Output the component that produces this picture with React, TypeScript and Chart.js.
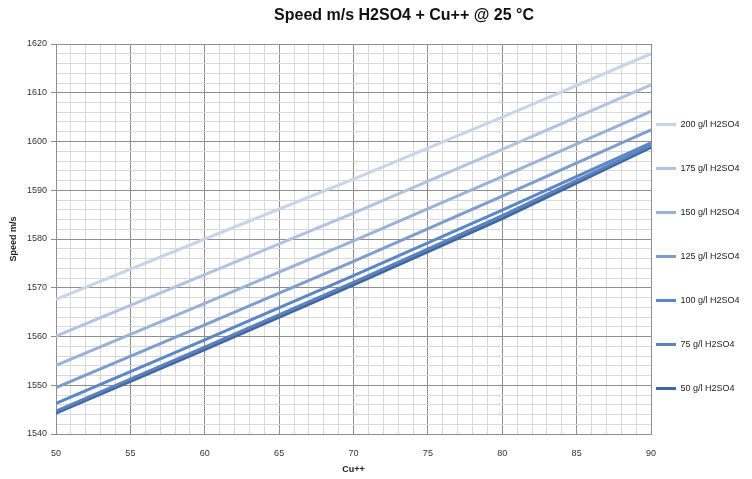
import React, { useEffect, useRef } from 'react';
import { Chart, registerables } from 'chart.js';

Chart.register(...registerables);

const chartTitle = 'Speed m/s H2SO4 + Cu++ @ 25 °C';
const xAxisTitle = 'Cu++';
const yAxisTitle = 'Speed m/s';

const cuValues = [50, 60, 70, 80, 90];
const seriesLabels = [
  '200 g/l H2SO4',
  '175 g/l H2SO4',
  '150 g/l H2SO4',
  '125 g/l H2SO4',
  '100 g/l H2SO4',
  '75 g/l H2SO4',
  '50 g/l H2SO4',
];
const speed200 = [1567.6, 1580.0, 1592.3, 1605.0, 1618.0];
const speed175 = [1560.1, 1572.7, 1585.3, 1598.4, 1611.6];
const speed150 = [1554.1, 1566.8, 1579.6, 1592.8, 1606.2];
const speed125 = [1549.5, 1562.4, 1575.4, 1588.8, 1602.4];
const speed100 = [1546.3, 1559.3, 1572.5, 1585.9, 1599.7];
const speed75 = [1544.7, 1557.8, 1571.1, 1584.8, 1599.2];
const speed50 = [1544.3, 1557.3, 1570.6, 1584.2, 1598.8];
const seriesValues = [speed200, speed175, speed150, speed125, speed100, speed75, speed50];
const seriesColors = ['#c8d4e9', '#b1c3e0', '#9bb1d7', '#7f9cce', '#5c87c6', '#5b82bb', '#3f67a4'];

const xMin = 50;
const xMax = 90;
const yMin = 1540;
const yMax = 1620;

const FONT = '"Liberation Sans", Arial, sans-serif';
const MAJOR = '#8e8e8e';
const MINOR = '#d9d9d9';

const titlePlugin = {
  id: 'customTitle',
  afterDraw(chart: any) {
    const { ctx, chartArea } = chart;
    ctx.save();
    ctx.font = `bold 16px ${FONT}`;
    ctx.fillStyle = '#111';
    ctx.textAlign = 'center';
    ctx.textBaseline = 'middle';
    ctx.fillText(chartTitle, (chartArea.left + chart.width) / 2, 16);
    ctx.restore();
  },
};

const legendShiftPlugin = {
  id: 'legendShift',
  afterLayout(chart: any) {
    const lg = chart.legend;
    if (!lg) return;
    lg.left -= 30;
    lg.width += 30;
    lg.top -= 5;
    lg.bottom -= 5;
  },
};

export default function App() {
  const canvasRef = useRef<HTMLCanvasElement | null>(null);

  useEffect(() => {
    if (!canvasRef.current) return;
    const datasets = seriesLabels.map((label, i) => ({
      label,
      data: cuValues.map((x, j) => ({ x, y: seriesValues[i][j] })),
      borderColor: seriesColors[i],
      backgroundColor: seriesColors[i],
      borderWidth: 3,
      pointRadius: 0,
      fill: false,
      tension: 0,
    }));
    const chart = new Chart(canvasRef.current, {
      type: 'line',
      data: { datasets },
      plugins: [titlePlugin, legendShiftPlugin],
      options: {
        animation: false,
        responsive: false,
        maintainAspectRatio: false,
        layout: { padding: { top: 44, left: 0, right: 0, bottom: 0 } },
        plugins: {
          title: { display: false },
          tooltip: { enabled: false },
          legend: {
            position: 'right',
            maxWidth: 101,
            labels: {
              usePointStyle: true,
              pointStyle: 'line',
              pointStyleWidth: 20,
              padding: 35,
              color: '#222',
              font: { family: FONT, size: 9 },
            },
          },
        },
        scales: {
          x: {
            type: 'linear',
            min: xMin,
            max: xMax,
            afterFit: (scale: any) => {
              scale.height = 45;
            },
            ticks: {
              stepSize: 1,
              autoSkip: false,
              maxRotation: 0,
              color: '#333',
              font: { family: FONT, size: 9 },
              padding: 10,
              callback: (v: any) => (Number(v) % 5 === 0 ? String(v) : ''),
            },
            grid: {
              color: (c: any) => (c.tick && c.tick.value % 5 === 0 ? MAJOR : MINOR),
              tickColor: 'transparent',
              tickLength: 4,
              lineWidth: 1,
            },
            border: { color: MAJOR },
            title: {
              display: true,
              text: xAxisTitle,
              color: '#222',
              font: { family: FONT, size: 9, weight: 'bold' },
              padding: { top: 4 },
            },
          },
          y: {
            type: 'linear',
            min: yMin,
            max: yMax,
            afterFit: (scale: any) => {
              scale.width = 56;
            },
            ticks: {
              stepSize: 2,
              autoSkip: false,
              color: '#333',
              font: { family: FONT, size: 9 },
              padding: 4,
              callback: (v: any) => (Number(v) % 10 === 0 ? String(v) : ''),
            },
            grid: {
              color: (c: any) => (c.tick && c.tick.value % 10 === 0 ? MAJOR : MINOR),
              tickColor: (c: any) => (c.tick && c.tick.value % 10 === 0 ? MAJOR : 'transparent'),
              tickLength: 5,
              lineWidth: 1,
            },
            border: { color: MAJOR },
            title: {
              display: true,
              text: yAxisTitle,
              color: '#222',
              font: { family: FONT, size: 9, weight: 'bold' },
              padding: { top: 8, bottom: 2 },
            },
          },
        },
      },
    } as any);
    return () => chart.destroy();
  }, []);

  return (
    <div style={{ position: 'absolute', left: 0, top: 0, width: 752, height: 479, background: '#fff' }}>
      <canvas ref={canvasRef} width={752} height={479} style={{ width: 752, height: 479 }} />
    </div>
  );
}
